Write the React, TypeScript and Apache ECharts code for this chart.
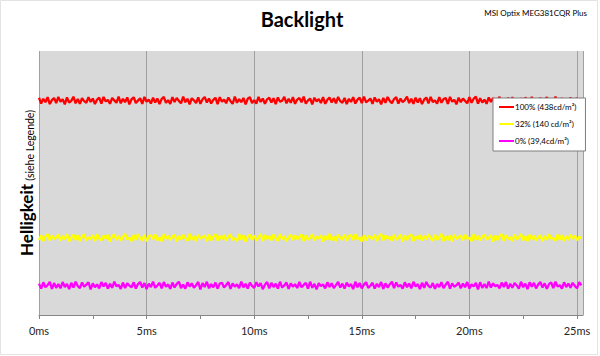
import React, { useEffect, useRef } from "react";
import * as echarts from "echarts";

const SAMPLE_MS = 0.1;
const X_TICKS = [0, 2.5, 5, 7.5, 10, 12.5, 15, 17.5, 20, 22.5, 25];
const X_LABELS = [0, 5, 10, 15, 20, 25];
const SERIES_NAMES = ["100% (438cd/m²)", "32% (140 cd/m²)", "0% (39,4cd/m²)"];
const SERIES_COLORS = ["#ff0000", "#ffff00", "#ff00ff"];

const red = [
  82.3, 80.1, 81.9, 80.6, 82.5, 79.9, 81.4, 82.2, 80.3, 82.6, 80.8,
  81.7, 79.8, 82.4, 80.5, 81.1, 82.7, 80.2, 81.8, 80.0, 82.1, 81.0,
  80.4, 82.5, 80.7, 82.0, 79.9, 81.6, 82.3, 80.1, 82.6, 80.9, 81.5,
  80.0, 82.2, 81.3, 80.4, 82.7, 80.2, 81.9, 80.6, 82.4, 79.8, 81.7,
  82.5, 80.3, 81.2, 82.1, 80.0, 82.6, 80.8, 81.6, 80.1, 82.3, 80.5,
  82.0, 79.9, 81.8, 82.6, 80.4, 81.4, 80.0, 82.5, 80.7, 82.2, 81.1,
  80.2, 82.7, 80.6, 81.9, 79.8, 82.1, 81.3, 80.3, 82.4, 80.0, 81.7,
  82.6, 80.5, 82.0, 80.1, 81.5, 82.3, 79.9, 82.5, 80.8, 81.6, 80.2,
  82.4, 81.0, 80.0, 82.7, 80.4, 81.8, 80.6, 82.2, 79.8, 81.9, 82.5,
  80.3, 81.4, 80.1, 82.6, 80.7, 82.0, 80.0, 81.7, 82.3, 80.5, 82.1,
  79.9, 82.4, 80.8, 81.2, 82.6, 80.2, 81.9, 80.4, 82.5, 80.0, 81.6,
  82.2, 80.6, 82.7, 80.1, 81.3, 82.0, 79.8, 82.3, 80.9, 81.8, 80.3,
  82.5, 80.0, 81.5, 82.4, 80.5, 82.1, 80.2, 82.6, 81.0, 80.4, 82.2,
  79.9, 81.9, 80.7, 82.5, 80.1, 81.6, 82.3, 80.3, 82.7, 80.6, 81.2,
  82.0, 80.0, 82.4, 80.8, 81.7, 79.8, 82.2, 80.4, 82.6, 81.1, 80.2,
  81.8, 82.5, 80.1, 82.0, 80.6, 81.4, 82.7, 80.3, 81.9, 80.0, 82.3,
  80.5, 82.1, 79.9, 81.6, 82.4, 80.2, 82.6, 80.7, 81.3, 80.1, 82.5,
  80.4, 81.8, 82.2, 80.0, 82.6, 80.8, 81.5, 79.8, 82.3, 80.6, 82.0,
  81.1, 80.2, 82.5, 80.4, 81.9, 82.7, 80.1, 82.1, 80.5, 81.6, 80.0,
  82.4, 80.7, 82.2, 79.9, 81.4, 82.6, 80.3, 81.8, 80.0, 82.3, 80.9,
  82.5, 80.2, 81.7, 80.6, 82.1, 79.8, 82.4, 81.2, 80.4, 82.6, 80.1,
  81.9, 80.8, 82.3, 80.0, 81.5, 82.5, 80.5, 82.0, 80.2, 82.7, 81.0,
  80.3, 82.2, 80.6, 81.8, 79.9, 82.4, 80.7, 81.6, 82.1, 80.1, 81.9,
];

const yellow = [
  28.4, 30.2, 28.0, 29.7, 30.6, 28.3, 30.1, 28.8, 29.4, 30.5, 28.1,
  30.0, 28.6, 30.7, 27.9, 29.2, 30.4, 28.5, 30.2, 28.0, 29.8, 30.6,
  28.2, 29.5, 28.7, 30.3, 28.0, 30.6, 29.0, 28.3, 30.1, 28.9, 30.4,
  27.8, 29.9, 30.5, 28.4, 30.0, 28.1, 29.6, 30.7, 28.6, 29.3, 28.0,
  30.3, 28.5, 30.6, 29.1, 28.2, 30.4, 27.9, 29.8, 30.2, 28.7, 30.5,
  28.3, 29.4, 28.0, 30.6, 28.8, 30.1, 28.4, 29.7, 30.5, 27.8, 30.0,
  28.6, 30.3, 29.2, 28.1, 30.7, 28.5, 29.9, 28.0, 30.4, 28.9, 29.5,
  30.2, 27.9, 30.5, 28.3, 29.6, 30.6, 28.2, 30.0, 28.7, 30.3, 28.1,
  29.8, 30.5, 28.4, 29.1, 28.0, 30.6, 28.6, 30.2, 27.8, 29.7, 30.4,
  28.5, 30.1, 28.2, 29.4, 30.7, 28.0, 30.3, 28.8, 29.9, 28.3, 30.5,
  29.0, 28.1, 30.6, 28.6, 30.0, 27.9, 29.5, 30.4, 28.4, 30.2, 28.7,
  29.6, 30.5, 28.0, 30.1, 28.5, 29.3, 30.6, 28.2, 29.8, 28.9, 30.3,
  27.8, 30.0, 28.6, 30.7, 28.3, 29.7, 28.0, 30.4, 29.2, 28.5, 30.5,
  28.1, 29.9, 30.3, 28.4, 30.6, 28.7, 29.4, 27.9, 30.2, 28.2, 30.0,
  29.5, 28.6, 30.5, 28.0, 29.8, 30.7, 28.3, 30.1, 28.9, 29.6, 28.1,
  30.4, 28.5, 29.2, 30.6, 27.8, 30.2, 28.4, 29.9, 30.5, 28.0, 29.7,
  28.8, 30.3, 28.2, 30.0, 28.6, 30.6, 29.1, 28.1, 30.4, 28.5, 29.4,
  30.7, 28.0, 29.8, 28.4, 30.2, 27.9, 30.5, 28.7, 29.6, 30.1, 28.3,
  30.4, 28.9, 29.3, 28.0, 30.6, 28.5, 30.0, 28.2, 29.7, 30.5, 28.6,
  29.1, 30.3, 27.8, 30.1, 28.4, 29.9, 30.6, 28.1, 30.2, 28.8, 29.5,
  28.0, 30.5, 28.6, 29.4, 30.7, 28.3, 29.8, 28.0, 30.4, 28.7, 30.1,
  28.2, 29.6, 30.3, 27.9, 30.0, 28.5, 30.6, 28.9, 29.2, 28.1, 30.4,
  28.6, 30.2, 28.0, 29.9, 28.4, 30.5, 28.8, 30.1, 28.3, 29.7, 29.0,
];

const magenta = [
  11.9, 10.0, 12.4, 10.5, 11.3, 12.6, 9.9, 12.1, 10.3, 11.7, 10.1,
  12.5, 10.6, 11.8, 9.8, 12.2, 10.4, 12.6, 11.0, 10.2, 12.3, 10.7,
  11.5, 12.4, 9.7, 12.0, 10.5, 11.6, 10.1, 12.5, 10.8, 12.2, 10.0,
  11.8, 10.3, 12.6, 10.9, 11.4, 9.9, 12.3, 10.2, 12.0, 11.1, 10.5,
  12.4, 10.0, 11.7, 12.5, 10.4, 12.1, 9.8, 11.9, 10.6, 12.6, 10.3,
  11.2, 12.2, 10.1, 12.5, 10.7, 11.6, 9.9, 12.3, 10.4, 11.8, 12.6,
  10.2, 11.5, 10.0, 12.4, 10.8, 12.0, 10.3, 11.3, 12.5, 9.7, 12.1,
  10.6, 12.6, 10.1, 11.7, 10.5, 12.3, 10.0, 11.9, 12.2, 10.4, 11.4,
  12.5, 9.9, 12.0, 10.7, 11.6, 10.2, 12.6, 10.5, 11.8, 10.0, 12.3,
  11.0, 10.3, 12.4, 10.8, 12.1, 9.8, 11.5, 12.5, 10.1, 12.2, 10.6,
  11.9, 10.0, 12.6, 10.4, 11.2, 12.3, 9.9, 12.0, 10.7, 11.7, 10.2,
  12.5, 10.5, 11.4, 12.2, 10.0, 12.6, 10.3, 11.8, 9.7, 12.1, 10.9,
  11.6, 10.1, 12.4, 10.6, 12.0, 10.2, 11.3, 12.5, 10.4, 11.9, 10.0,
  12.3, 10.8, 11.7, 9.8, 12.6, 10.5, 12.1, 10.1, 11.5, 12.4, 10.3,
  11.1, 12.2, 10.0, 11.8, 10.6, 12.5, 9.9, 12.0, 10.4, 11.6, 12.6,
  10.2, 12.3, 10.7, 11.4, 10.0, 12.4, 10.5, 11.9, 10.1, 12.6, 10.8,
  11.7, 9.8, 12.2, 10.3, 12.5, 11.0, 10.4, 12.1, 9.9, 11.8, 10.6,
  12.4, 10.2, 11.5, 12.6, 10.0, 12.0, 10.7, 11.3, 12.3, 10.1, 11.9,
  10.5, 12.5, 10.0, 11.6, 10.8, 12.2, 9.7, 12.4, 10.3, 11.7, 10.2,
  12.6, 10.4, 12.0, 10.9, 11.4, 10.1, 12.3, 10.6, 12.5, 10.0, 11.8,
  10.3, 12.1, 11.2, 10.0, 12.6, 10.5, 11.9, 9.8, 12.4, 10.7, 12.2,
  10.1, 11.6, 12.5, 10.4, 12.0, 9.9, 11.7, 12.3, 10.2, 12.6, 10.8,
  11.3, 10.0, 12.4, 10.6, 11.9, 10.3, 12.2, 11.0, 10.1, 12.5, 11.2,
];

const SERIES_VALUES = [red, yellow, magenta];
const FONT = "Lato, 'Open Sans', sans-serif";

export default function App() {
  const ref = useRef<HTMLDivElement>(null);

  useEffect(() => {
    if (!ref.current) return;
    const chart = echarts.init(ref.current, null, { renderer: "svg" });
    chart.setOption({
      animation: false,
      backgroundColor: "#ffffff",
      textStyle: { fontFamily: FONT },
      grid: {
        left: 39,
        right: 17,
        top: 51,
        bottom: 41,
        show: true,
        backgroundColor: "#d9d9d9",
        borderWidth: 0,
      },
      title: [
        {
          text: "Backlight",
          left: 297,
          top: 4,
          textAlign: "center",
          textStyle: { fontFamily: FONT, fontSize: 20, fontWeight: "bold", color: "#000" },
        },
        {
          text: "MSI Optix MEG381CQR Plus",
          right: 8,
          top: 4,
          textStyle: { fontFamily: FONT, fontSize: 8, fontWeight: "normal", color: "#000" },
        },
      ],
      legend: {
        orient: "vertical",
        left: 493,
        top: 98,
        backgroundColor: "#ffffff",
        borderColor: "#7f7f7f",
        borderWidth: 1,
        padding: [4, 9, 5, 6],
        icon: "rect",
        itemWidth: 15,
        itemHeight: 2,
        itemGap: 7,
        textStyle: { fontFamily: FONT, fontSize: 8, color: "#000", lineHeight: 10, padding: [0, 0, 0, -4] },
        data: SERIES_NAMES,
      },
      xAxis: [
        {
          type: "value",
          min: 0,
          max: 25.28,
          interval: 5,
          axisLine: { show: true, lineStyle: { color: "#868686", width: 1 } },
          axisTick: {
            show: true,
            length: 4,
            customValues: X_TICKS,
            lineStyle: { color: "#868686" },
          },
          axisLabel: {
            customValues: X_LABELS,
            formatter: (v: number) => `${v}ms`,
            fontFamily: FONT,
            fontSize: 11,
            color: "#262626",
            margin: 10,
          },
          splitLine: { show: false },
        },
        {
          type: "value",
          min: 0,
          max: 25.28,
          interval: 5,
          position: "bottom",
          axisLine: { show: false },
          axisTick: { show: false },
          axisLabel: { show: false },
          splitLine: { show: true, lineStyle: { color: "#a0a0a0", width: 1 } },
        },
      ],
      yAxis: {
        type: "value",
        min: 0,
        max: 100,
        axisLine: { show: false },
        axisTick: { show: false },
        axisLabel: { show: false },
        splitLine: { show: false },
      },
      graphic: [
        {
          type: "rect",
          shape: { x: 0.5, y: 0.5, width: 597, height: 354 },
          style: { fill: "none", stroke: "#e3e3e3", lineWidth: 1 },
          silent: true,
          z: 100,
        },
        {
          type: "text",
          x: 25,
          y: 183,
          rotation: Math.PI / 2,
          style: {
            text: "{a|Helligkeit} {b|(siehe Legende)}",
            align: "center",
            verticalAlign: "middle",
            rich: {
              a: { fontFamily: FONT, fontSize: 17, fontWeight: "bold", fill: "#000", verticalAlign: "bottom", lineHeight: 20 },
              b: { fontFamily: FONT, fontSize: 10.5, fill: "#000", verticalAlign: "bottom", lineHeight: 20 },
            },
          },
        },
      ],
      series: SERIES_VALUES.map((vals, s) => ({
        name: SERIES_NAMES[s],
        type: "line",
        xAxisIndex: 0,
        showSymbol: false,
        symbol: "none",
        color: SERIES_COLORS[s],
        lineStyle: { color: SERIES_COLORS[s], width: 2.3 },
        data: vals.map((v, i) => [i * SAMPLE_MS, v]),
      })),
    });
    return () => chart.dispose();
  }, []);

  return (
    <div
      ref={ref}
      style={{ position: "absolute", left: 0, top: 0, width: 600, height: 356 }}
    />
  );
}
